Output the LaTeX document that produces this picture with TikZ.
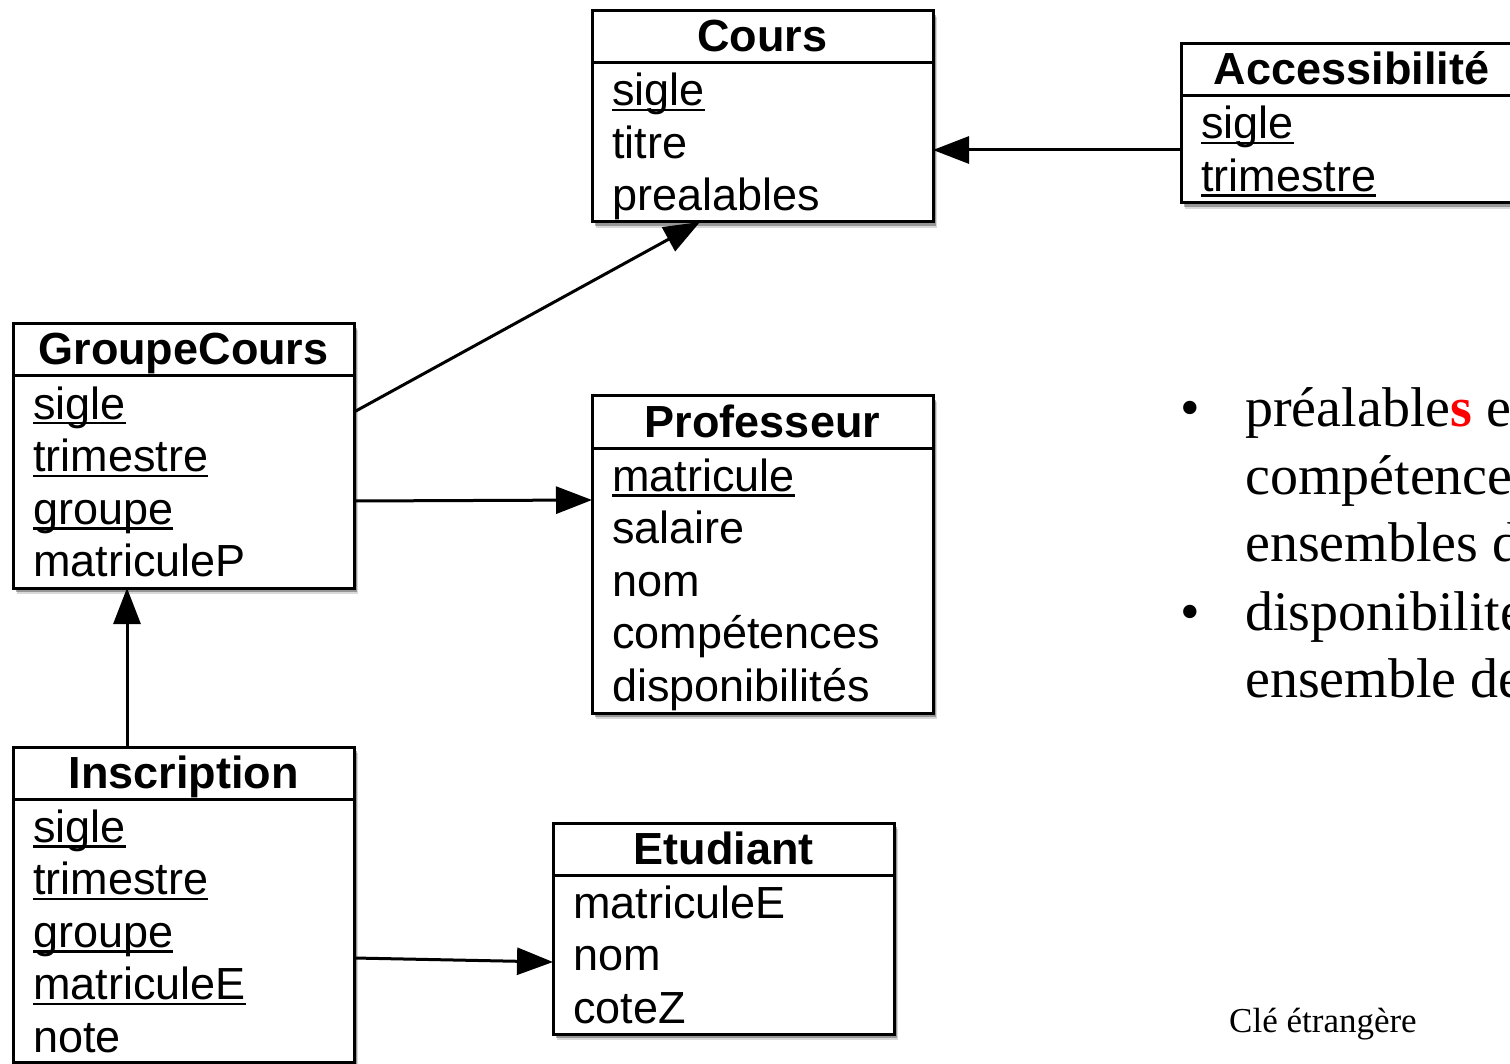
\documentclass[tikz,border=0pt]{standalone}
\usepackage{fontspec}
\setmainfont{Liberation Serif}
\setsansfont{Liberation Sans}
\usetikzlibrary{arrows.meta,shadows}
\newcommand\keyul[1]{\setbox0\hbox{#1}\rlap{\rule[-5.5pt]{\wd0}{2.5pt}}\box0}
\tikzset{
  entity/.style={draw, line width=3pt, fill=white, rectangle, anchor=north west,
    minimum width=341pt, inner sep=0pt, outer sep=0pt,
    drop shadow={shadow xshift=4pt, shadow yshift=-6pt, fill=black, opacity=0.15},
    drop shadow={shadow xshift=3pt, shadow yshift=-4pt, fill=black, opacity=0.3}},
  entline/.style={line width=3pt},
  ttl/.style={anchor=base, inner sep=0pt, font=\sffamily\bfseries\fontsize{45}{54}\selectfont},
  attr/.style={anchor=base west, inner sep=0pt, font=\sffamily\fontsize{45}{54}\selectfont},
  fk/.style={line width=3pt, -{Triangle[length=36pt,width=27pt]}},
  serif/.style={anchor=base west, inner sep=0pt, font=\rmfamily\fontsize{56}{67}\selectfont},
}
\newcommand\entity[6]{%
  \node[entity, minimum height=#4pt] (#1) at (#2,#3) {};
  \draw[entline] ([yshift=-52pt]#1.north west) -- ([yshift=-52pt]#1.north east);
  \node[ttl] (#1-t) at ([yshift=-41pt]#1.north) {#5};
  \foreach \a [count=\i] in {#6} {
    \node[attr] (#1-\i) at ([xshift=20pt,yshift={-95pt-(\i-1)*52.5pt}]#1.north west) {\a};
  }
}
\begin{document}
\begin{tikzpicture}[x=1pt,y=-1pt]
\useasboundingbox (0,0) rectangle (1510,1064);
\fill[white] (0,0) rectangle (1510,1064);
\clip (0,0) rectangle (1510,1064);

\entity{cours}{592}{11}{211}{Cours}{\keyul{sigle},titre,prealables}
\entity{acc}{1181}{44}{159}{Accessibilité}{\keyul{sigle},\keyul{trimestre}}
\entity{gc}{13}{324}{264}{GroupeCours}{\keyul{sigle},\keyul{trimestre},\keyul{groupe},matriculeP}
\entity{prof}{592}{396}{317}{Professeur}{\keyul{matricule},salaire,nom,compétences,disponibilités}
\entity{insc}{13}{747}{315}{Inscription}{\keyul{sigle},\keyul{trimestre},\keyul{groupe},\keyul{matriculeE},note}
\entity{etu}{553}{823}{211}{Etudiant}{matriculeE,nom,coteZ}

\draw[fk] (acc.west |- 0,150) -- (cours.east |- 0,150);
\draw[fk] (gc.east |- 0,412) -- (cours.south -| 700,0);
\draw[fk] (gc.east |- 0,501) -- (prof.west |- 0,500);
\draw[fk] (insc.north -| 127,0) -- (gc.south -| 127,0);
\draw[fk] (insc.east |- 0,958) -- (etu.west |- 0,962);

\node[serif] (b1) at (1180,427) {•};
\node[serif] (l1) at (1245,427) {préalable{\color{red}\bfseries s} est un};
\node[serif] (l2) at (1245,494) {compétences est un};
\node[serif] (l3) at (1245,561) {ensembles de};
\node[serif] (b2) at (1180,630) {•};
\node[serif] (l4) at (1245,630) {disponibilités est un};
\node[serif] (l5) at (1245,697) {ensemble de};

\node[anchor=base west, inner sep=0pt, font=\rmfamily\fontsize{35}{42}\selectfont] (cle) at (1229,1032) {Clé étrangère};
\end{tikzpicture}
\end{document}
